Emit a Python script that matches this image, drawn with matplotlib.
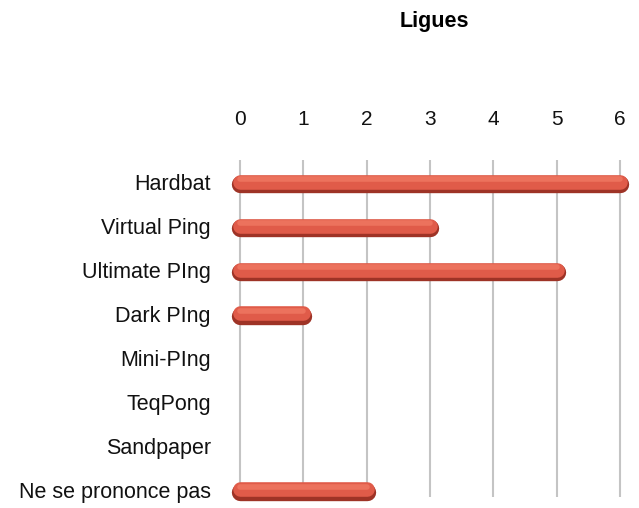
import matplotlib.pyplot as plt

plt.rcParams['font.family'] = ['Liberation Sans', 'DejaVu Sans']

# data
categories = ["Hardbat", "Virtual Ping", "Ultimate PIng", "Dark PIng",
              "Mini-PIng", "TeqPong", "Sandpaper", "Ne se prononce pas"]
values = [6, 3, 5, 1, 0, 0, 0, 2]
ticks = [0, 1, 2, 3, 4, 5, 6]

fig = plt.figure(figsize=(6.39, 5.08), dpi=100)
ax = fig.add_axes([0.3646, 0.022, 0.6354, 0.663])

# cylinder-like bars: dark base, main body, soft highlight
for i, v in enumerate(values):
    if v == 0:
        continue
    ax.plot([0, v], [i + 0.04, i + 0.04], color="#9e3326", lw=12.5,
            solid_capstyle="round", zorder=3, clip_on=False)
    ax.plot([0, v], [i - 0.01, i - 0.01], color="#e05b49", lw=10.5,
            solid_capstyle="round", zorder=4, clip_on=False)
    ax.plot([0, v], [i - 0.06, i - 0.06], color="#f27c66", lw=4,
            solid_capstyle="round", zorder=5, clip_on=False, alpha=0.7)

ax.set_xlim(-0.11, 6.3)
ax.set_ylim(7.16, -0.5)
ax.set_xticks(ticks)
ax.set_xticklabels([str(t) for t in ticks])
ax.set_yticks(range(len(categories)))
ax.set_yticklabels(categories)
ax.xaxis.tick_top()
ax.tick_params(axis="x", length=0, pad=22, labelsize=15, labelcolor="#111111")
ax.tick_params(axis="y", length=0, pad=16, labelsize=15.5, labelcolor="#111111")
ax.grid(axis="x", color="#c4c4c4", lw=1.5)
ax.set_axisbelow(True)
for s in ax.spines.values():
    s.set_visible(False)

fig.text(0.68, 0.957, "Ligues", ha="center", va="center",
         fontsize=15.5, fontweight="bold", color="#000000")

fig.savefig("out.png", dpi=100)
